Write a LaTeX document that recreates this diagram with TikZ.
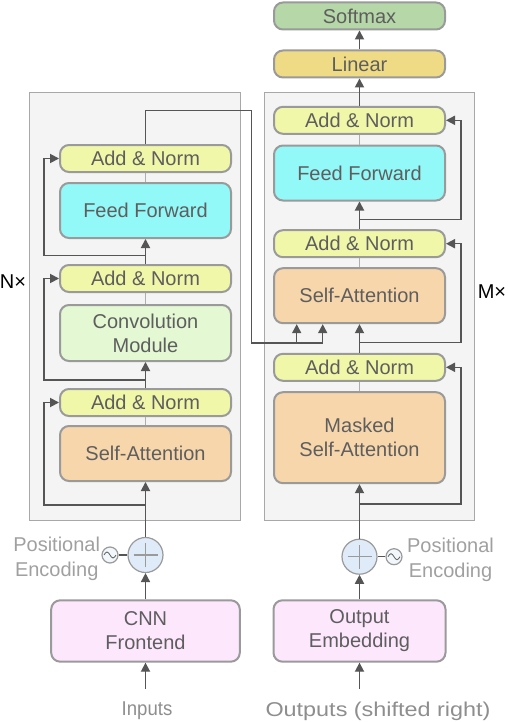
\documentclass[tikz,border=0pt]{standalone}
\usepackage{fontspec}
\setmainfont{Liberation Sans}
\usepackage{xcolor}
\usepackage{graphicx}
\usetikzlibrary{arrows.meta}
\definecolor{panelfill}{HTML}{F4F4F4}
\definecolor{panelline}{HTML}{A8A8A8}
\definecolor{boxline}{HTML}{9A9A9A}
\definecolor{txtgray}{HTML}{5E5E5E}
\definecolor{pegray}{HTML}{A0A0A0}
\definecolor{lblgray}{HTML}{8E8E8E}
\definecolor{arrgray}{HTML}{555555}
\definecolor{normyellow}{HTML}{F1F7A9}
\definecolor{ffcyan}{HTML}{93F8F8}
\definecolor{convgreen}{HTML}{E3F8D3}
\definecolor{attpeach}{HTML}{F7D6AB}
\definecolor{smaxgreen}{HTML}{B6D7A8}
\definecolor{linyellow}{HTML}{EFDB86}
\definecolor{embpink}{HTML}{FDE7FD}
\definecolor{peblue}{HTML}{DFEBF8}

\begin{document}
\begin{tikzpicture}[x=0.5pt,y=-0.5pt,
  panel/.style={draw=panelline,fill=panelfill,line width=0.5pt},
  blk/.style={draw=boxline,line width=1pt,rounded corners=4.5pt,text=txtgray,align=center,
    font=\fontsize{10}{12}\selectfont,inner sep=0pt,minimum width=85.5pt},
  addnorm/.style={blk,fill=normyellow,minimum height=13.5pt},
  ffbox/.style={blk,fill=ffcyan,minimum height=27.5pt},
  convbox/.style={blk,fill=convgreen,minimum height=28pt},
  attbox/.style={blk,fill=attpeach,minimum height=27.5pt},
  embbox/.style={blk,fill=embpink,minimum height=30.7pt},
  arr/.style={draw=arrgray,line width=0.6pt,-{Triangle[length=4.5pt,width=4.6pt]}},
  ln/.style={draw=arrgray,line width=0.6pt},
  thinln/.style={draw=boxline!80,line width=0.5pt},
  pe/.style={circle,draw=boxline,fill=peblue,line width=0.6pt,minimum size=17.5pt,inner sep=0pt,
    path picture={\draw[boxline,line width=0.7pt]
      ([xshift=-6pt]path picture bounding box.center) -- ([xshift=6pt]path picture bounding box.center)
      ([yshift=-6pt]path picture bounding box.center) -- ([yshift=6pt]path picture bounding box.center);}},
  sine/.style={circle,draw=boxline,fill=peblue!40,line width=0.6pt,minimum size=8pt,inner sep=0pt,
    path picture={\draw[txtgray,line width=0.4pt]
      ([xshift=-3pt]path picture bounding box.center) sin ++(1.5pt,1.5pt) cos ++(1.5pt,-1.5pt)
      sin ++(1.5pt,-1.5pt) cos ++(1.5pt,1.5pt);}},
  petext/.style={text=pegray,align=center,font=\fontsize{10}{12.5}\selectfont},
  lbl/.style={text=lblgray,font=\fontsize{10}{12}\selectfont}]
\useasboundingbox (0,0) rectangle (508,722);

\draw[panel] (29,93) rectangle (240,520.7);
\draw[panel] (264,93) rectangle (474,520.7);

\node[addnorm] (an1) at (145.5,158.5) {Add \& Norm};
\node[ffbox] (ff) at (145.5,210.5) {Feed Forward};
\node[addnorm] (an2) at (145.5,278.5) {Add \& Norm};
\node[convbox] (conv) at (145.5,333) {Convolution\\Module};
\node[addnorm] (an3) at (145.5,402.5) {Add \& Norm};
\node[attbox] (sa1) at (145.5,453.5) {Self-Attention};

\node[blk,fill=smaxgreen,minimum height=13.5pt] (smax) at (359.5,16) {Softmax};
\node[blk,fill=linyellow,minimum height=13.5pt] (lin) at (359.5,64) {Linear};
\node[addnorm] (dan1) at (359.5,120.3) {Add \& Norm};
\node[ffbox] (dff) at (359.5,173) {Feed Forward};
\node[addnorm] (dan2) at (359.5,243.7) {Add \& Norm};
\node[attbox] (sa2) at (359.5,295.7) {Self-Attention};
\node[addnorm] (dan3) at (359.5,367.3) {Add \& Norm};
\node[attbox,minimum height=45.5pt] (msa) at (359.5,437.7) {Masked\\Self-Attention};

\node (nx) at (13,281.5) {N\texttimes};
\node (mx) at (492,292) {M\texttimes};

\node[pe] (pe1) at (145.5,555) {};
\node[sine] (sin1) at (110,555) {};
\node[petext] (pos1) at (56.7,559) {Positional\\Encoding};
\node[embbox,minimum width=94.3pt] (cnn) at (145.5,631) {CNN\\Frontend};
\node[lbl] (inp) at (147,711) {\scalebox{0.93}[1]{Inputs}};

\node[pe] (pe2) at (359.5,556.7) {};
\node[sine] (sin2) at (394,556.7) {};
\node[petext] (pos2) at (450.5,560) {Positional\\Encoding};
\node[embbox,minimum width=86pt] (emb) at (359.5,631) {Output\\Embedding};
\node[lbl] (outp) at (378,711) {\scalebox{1.17}[1]{Outputs (shifted right)}};

\coordinate (r1) at (145.5,505);
\coordinate (r2) at (145.5,380);
\coordinate (r3) at (145.5,255.3);
\coordinate (r4) at (359.5,504);
\coordinate (r5) at (359.5,342.7);
\coordinate (r6) at (359.5,219.3);
\coordinate (c1) at (251.7,110.7);
\coordinate (k1) at (296.7,343);
\coordinate (k2) at (322.7,343);

\draw[thinln] (ff.north) -- (an1.south);
\draw[thinln] (conv.north) -- (an2.south);
\draw[thinln] (sa1.north) -- (an3.south);
\draw[thinln] (dff.north) -- (dan1.south);
\draw[thinln] (sa2.north) -- (dan2.south);
\draw[thinln] (msa.north) -- (dan3.south);

\draw[arr] ([yshift=3pt]inp.north -| cnn.south) -- (cnn.south);
\draw[arr] (cnn.north) -- (pe1.south);
\draw[ln] (sin1) -- (pe1);
\draw[arr] (pe1.north) -- (sa1.south);
\draw[arr] (r1) -| ([xshift=-7.5pt]an3.west) -- (an3.west);
\draw[arr] (an3.north) -- (conv.south);
\draw[arr] (r2) -| ([xshift=-7.5pt]an2.west) -- (an2.west);
\draw[arr] (an2.north) -- (ff.south);
\draw[arr] (r3) -| ([xshift=-7.5pt]an1.west) -- (an1.west);
\draw[arr] (an1.north) |- (c1) |- (k2) -- (k2 |- sa2.south);
\draw[arr] (k1) -- (k1 |- sa2.south);

\draw[arr] ([yshift=3pt]outp.north -| emb.south) -- (emb.south);
\draw[arr] (emb.north) -- (pe2.south);
\draw[ln] (sin2) -- (pe2);
\draw[arr] (pe2.north) -- (msa.south);
\draw[arr] (r4) -| ([xshift=7.5pt]dan3.east) -- (dan3.east);
\draw[arr] (dan3.north) -- (sa2.south);
\draw[arr] (r5) -| ([xshift=7.5pt]dan2.east) -- (dan2.east);
\draw[arr] (dan2.north) -- (dff.south);
\draw[arr] (r6) -| ([xshift=7.5pt]dan1.east) -- (dan1.east);
\draw[arr] (dan1.north) -- (lin.south);
\draw[arr] (lin.north) -- (smax.south);
\end{tikzpicture}
\end{document}
